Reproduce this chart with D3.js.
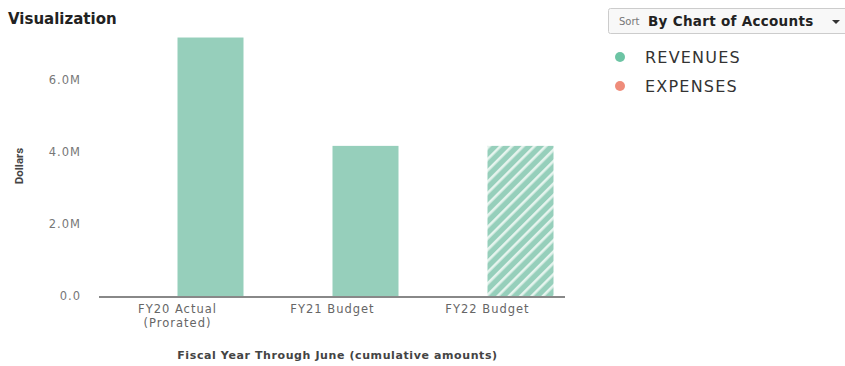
<!DOCTYPE html>
<html>
<head>
<meta charset="utf-8">
<script src="https://cdn.jsdelivr.net/npm/d3@7"></script>
<style>
  body { margin: 0; background: #fff; font-family: 'DejaVu Sans', sans-serif; }
  svg { display: block; }
</style>
</head>
<body>
<div id="chart"></div>
<script>
const categories = [['FY20 Actual', '(Prorated)'], ['FY21 Budget'], ['FY22 Budget']];
const revenues = [7.18e6, 4.17e6, 4.17e6];
const projected = [false, false, true];
const yTicks = [0, 2e6, 4e6, 6e6];
const legendItems = ['REVENUES', 'EXPENSES'];
const legendColors = ['#6cc4a4', '#ef8c7a'];

const width = 845, height = 366;
const margin = { left: 100, top: 8, bottom: 70 };
const plotRight = 565, baseY = 296;

const svg = d3.select('#chart').append('svg')
  .attr('width', width)
  .attr('height', height)
  .attr('font-family', "'DejaVu Sans', sans-serif");

// hatch pattern for projected bars
const defs = svg.append('defs');
const pat = defs.append('pattern')
  .attr('id', 'hatch')
  .attr('patternUnits', 'userSpaceOnUse')
  .attr('width', 8).attr('height', 8)
  .attr('patternTransform', 'rotate(45)');
pat.append('rect').attr('width', 8).attr('height', 8).attr('fill', '#96cfbb');
pat.append('rect').attr('x', 0).attr('width', 2.6).attr('height', 8).attr('fill', '#e6f4ee');

const x = d3.scaleBand()
  .domain(d3.range(categories.length))
  .range([margin.left, plotRight])
  .padding(0);

const y = d3.scaleLinear()
  .domain([0, 7.2e6])
  .range([baseY, baseY - 7.2e6 / 2e6 * 72]);

svg.append('text')
  .attr('x', 8).attr('y', 24)
  .attr('font-size', 15).attr('font-weight', 'bold')
  .attr('fill', '#222')
  .text('Visualization');

// y axis (labels only)
const yAxis = svg.append('g')
  .attr('transform', `translate(${margin.left - 16},0)`)
  .call(d3.axisLeft(y).tickValues(yTicks).tickSize(0)
    .tickFormat(d => d === 0 ? '0.0' : (d / 1e6).toFixed(1) + 'M'));
yAxis.select('.domain').remove();
yAxis.selectAll('text')
  .attr('font-size', 11.5)
  .attr('letter-spacing', 1)
  .attr('fill', '#777')
  .attr('font-family', "'DejaVu Sans', sans-serif");

svg.append('text')
  .attr('transform', `translate(23,${166}) rotate(-90)`)
  .attr('text-anchor', 'middle')
  .attr('font-size', 11.5).attr('font-weight', 'bold')
  .attr('fill', '#444')
  .attr('font-family', "'Liberation Sans Narrow', 'Roboto', sans-serif")
  .text('Dollars');

// bars
const barW = 66;
svg.append('g').selectAll('rect')
  .data(revenues)
  .join('rect')
  .attr('x', (d, i) => x(i) + x.bandwidth() / 2)
  .attr('y', d => y(d))
  .attr('width', barW)
  .attr('height', d => baseY - y(d))
  .attr('fill', (d, i) => projected[i] ? 'url(#hatch)' : '#96cfbb');

// baseline
svg.append('line')
  .attr('x1', margin.left - 1).attr('x2', plotRight)
  .attr('y1', baseY + 1).attr('y2', baseY + 1)
  .attr('stroke', '#888').attr('stroke-width', 2);

// category labels
const catG = svg.append('g').selectAll('text')
  .data(categories)
  .join('text')
  .attr('x', (d, i) => x(i) + x.bandwidth() / 2)
  .attr('y', 313)
  .attr('text-anchor', 'middle')
  .attr('font-size', 11.5)
  .attr('letter-spacing', 1)
  .attr('fill', '#666');
catG.selectAll('tspan')
  .data(d => d)
  .join('tspan')
  .attr('x', function () { return d3.select(this.parentNode).attr('x'); })
  .attr('dy', (d, i) => i === 0 ? 0 : 14)
  .text(d => d);

svg.append('text')
  .attr('x', (margin.left + plotRight) / 2 + 5).attr('y', 359)
  .attr('text-anchor', 'middle')
  .attr('font-size', 11).attr('font-weight', 'bold')
  .attr('letter-spacing', 0.6)
  .attr('fill', '#444')
  .text('Fiscal Year Through June (cumulative amounts)');

// sort dropdown
const dd = svg.append('g');
dd.append('rect')
  .attr('x', 608.5).attr('y', 8.5)
  .attr('width', 250).attr('height', 25)
  .attr('rx', 2)
  .attr('fill', '#f8f8f8').attr('stroke', '#ccc');
dd.append('text')
  .attr('x', 619).attr('y', 25)
  .attr('font-size', 10).attr('fill', '#777')
  .text('Sort');
dd.append('text')
  .attr('x', 648).attr('y', 25.5)
  .attr('font-size', 13.5).attr('font-weight', 'bold')
  .attr('letter-spacing', 0.3).attr('fill', '#222')
  .text('By Chart of Accounts');
dd.append('path')
  .attr('d', 'M832,20 L840,20 L836,24 Z')
  .attr('fill', '#333');

// legend
const leg = svg.append('g').selectAll('g')
  .data(legendItems)
  .join('g')
  .attr('transform', (d, i) => `translate(620,${57 + i * 29})`);
leg.append('circle')
  .attr('r', 5)
  .attr('fill', (d, i) => legendColors[i]);
leg.append('text')
  .attr('x', 25).attr('y', 6)
  .attr('font-size', 16)
  .attr('letter-spacing', 1.2)
  .attr('fill', '#333')
  .text(d => d);
</script>
</body>
</html>
